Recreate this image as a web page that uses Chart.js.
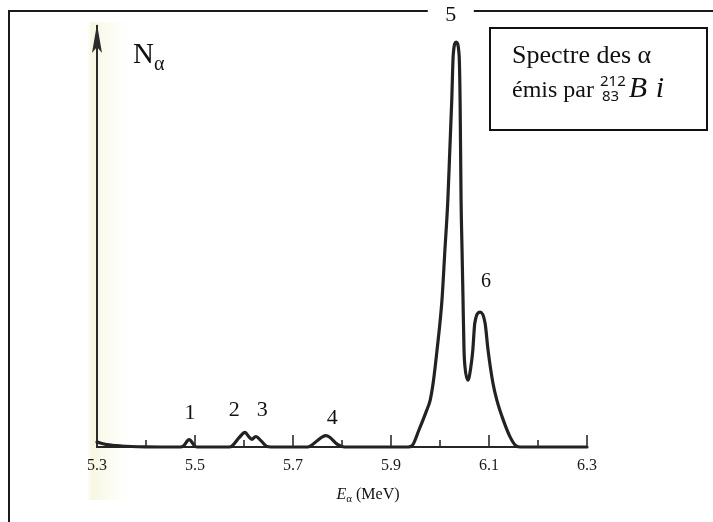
<!DOCTYPE html>
<html><head><meta charset="utf-8">
<script src="https://cdn.jsdelivr.net/npm/chart.js@4.4.1/dist/chart.umd.min.js"></script>
<style>html,body{margin:0;padding:0;background:#fff;overflow:hidden}canvas{display:block}</style>
</head><body>
<canvas id="c" width="713" height="522"></canvas>
<script>
// Alpha spectrum of Bi-212 (counts in arbitrary units, peak 5 = 100)
const energy = [5.300,5.320,5.350,5.400,5.470,5.476,5.488,5.500,5.505,5.570,5.576,5.590,5.602,5.610,5.616,5.624,5.635,5.647,5.655,
  5.730,5.735,5.750,5.760,5.767,5.775,5.790,5.800,5.805,5.935,5.943,5.957,5.973,5.980,5.986,5.994,6.004,6.010,6.016,6.020,6.024,
  6.027,6.033,6.039,6.041,6.043,6.045,6.047,6.049,6.051,6.057,6.063,6.067,6.071,6.082,6.092,6.098,6.108,6.116,6.129,6.143,6.155,6.165,6.300];
const counts = [1.2,0.6,0.25,0.05,0,0.2,1.8,0.2,0,0,0.3,2.3,3.6,2.5,1.9,2.6,1.5,0.1,0,
  0,0.2,1.6,2.5,2.8,2.4,0.7,0.1,0,0,0.3,4.2,9.1,11.6,15.8,24.0,36.3,48.6,61.0,73.3,85.7,
  96.8,100,96.8,85.7,61.0,48.6,36.3,24.0,19.8,16.5,19.8,24.0,30.6,33.3,30.6,24.0,15.8,11.6,6.7,2.5,0.3,0,0];
const tickLabels = ['5.3','5.5','5.7','5.9','6.1','6.3'];
const peakNames  = ['1','2','3','4','5','6'];
const peakLabelE = [5.49,5.58,5.637,5.78,6.022,6.094];
const peakLabelN = [8.4,9.1,9.1,7.2,106.7,40.7];

const SERIF = '"Liberation Serif","Times New Roman",serif';
const points = energy.map((e,i)=>({x:e,y:counts[i]}));

const decor = {
  id:'decor',
  beforeDraw(chart){
    const ctx = chart.ctx;
    ctx.save();
    const g = ctx.createLinearGradient(87,0,138,0);
    g.addColorStop(0,'rgba(246,245,222,0)');
    g.addColorStop(0.1,'rgba(245,244,216,0.8)');
    g.addColorStop(1,'rgba(255,255,255,0)');
    ctx.fillStyle = g;
    ctx.fillRect(87,22,51,478);
    ctx.restore();
  },
  afterDraw(chart){
    const {ctx, chartArea:a} = chart;
    const xs = chart.scales.x, ys = chart.scales.y;
    ctx.save();
    // inward tick marks
    ctx.strokeStyle = '#2b2b2b'; ctx.lineWidth = 1.6;
    xs.ticks.forEach(t=>{
      const lab = t.value.toFixed(1);
      if (lab === '5.3') return;
      const px = xs.getPixelForValue(t.value);
      const len = tickLabels.includes(lab) ? 12 : 7;
      ctx.beginPath(); ctx.moveTo(px, a.bottom); ctx.lineTo(px, a.bottom - len); ctx.stroke();
    });
    // arrow head on y axis
    ctx.fillStyle = '#2b2b2b';
    ctx.beginPath();
    ctx.moveTo(a.left, a.top - 2);
    ctx.lineTo(a.left - 5, a.top + 27);
    ctx.lineTo(a.left, a.top + 21);
    ctx.lineTo(a.left + 5, a.top + 27);
    ctx.closePath(); ctx.fill();

    // outer frame (top and left)
    ctx.strokeStyle = '#1a1a1a'; ctx.lineWidth = 2;
    ctx.beginPath(); ctx.moveTo(9,522); ctx.lineTo(9,11); ctx.lineTo(713,11); ctx.stroke();

    // peak labels
    ctx.fillStyle = '#111';
    ctx.textAlign = 'center'; ctx.textBaseline = 'middle';
    peakNames.forEach((n,i)=>{
      const px = xs.getPixelForValue(peakLabelE[i]);
      const py = ys.getPixelForValue(peakLabelN[i]);
      ctx.font = (i===5 ? '20px ' : '22px ') + SERIF;
      if (n === '5') { ctx.fillStyle = '#fff'; ctx.fillRect(px-23, 4, 46, 16); ctx.fillStyle = '#111'; }
      ctx.fillText(n, px, py);
    });

    // N_alpha
    ctx.textAlign = 'left'; ctx.textBaseline = 'alphabetic';
    ctx.font = '29px ' + SERIF;
    ctx.fillText('N', 133, 63);
    const nw = ctx.measureText('N').width;
    ctx.font = '20px ' + SERIF;
    ctx.fillText('α', 133 + nw, 70);

    // axis title E_alpha (MeV)
    ctx.font = 'italic 16px ' + SERIF;
    const w1 = ctx.measureText('E').width;
    ctx.font = '11px ' + SERIF;
    const w2 = ctx.measureText('α').width;
    ctx.font = '16px ' + SERIF;
    const w3 = ctx.measureText(' (MeV)').width;
    let tx = 368 - (w1+w2+w3)/2;
    ctx.font = 'italic 16px ' + SERIF; ctx.fillText('E', tx, 499); tx += w1;
    ctx.font = '11px ' + SERIF; ctx.fillText('α', tx, 502); tx += w2;
    ctx.font = '16px ' + SERIF; ctx.fillText(' (MeV)', tx, 499);

    // annotation box
    ctx.strokeStyle = '#111'; ctx.lineWidth = 2;
    ctx.strokeRect(490, 28, 217, 102);
    ctx.fillStyle = '#111';
    ctx.font = '26px ' + SERIF;
    ctx.fillText('Spectre des α', 512, 63);
    ctx.font = '24px ' + SERIF;
    ctx.fillText('émis par', 512, 97);
    let bx = 512 + ctx.measureText('émis par').width + 6;
    ctx.font = '15px "Noto Sans","DejaVu Sans",sans-serif';
    ctx.fillText('212', bx, 86);
    ctx.fillText('83', bx + 2, 101);
    bx += ctx.measureText('212').width + 3;
    ctx.font = 'italic 30px ' + SERIF;
    ctx.fillText('B', bx, 97);
    ctx.fillText('i', bx + 27, 97);
    ctx.restore();
  }
};

new Chart(document.getElementById('c'), {
  type: 'line',
  data: { datasets: [{
    data: points,
    borderColor: '#222',
    borderWidth: 3.2,
    pointRadius: 0,
    fill: false,
    cubicInterpolationMode: 'monotone',
    borderJoinStyle: 'round',
    borderCapStyle: 'round',
    clip: false
  }]},
  options: {
    responsive: false,
    animation: false,
    devicePixelRatio: 1,
    layout: { padding: { left: 97, right: 126, top: 26, bottom: 0 } },
    plugins: { legend: { display: false }, tooltip: { enabled: false }, title: { display: false } },
    scales: {
      x: {
        type: 'linear', min: 5.3, max: 6.3,
        grid: { display: false, drawTicks: false },
        border: { display: true, color: '#262626', width: 2 },
        ticks: {
          stepSize: 0.1, autoSkip: false, maxRotation: 0, padding: 9,
          color: '#1a1a1a', font: { family: SERIF, size: 16 },
          callback: (v) => { const s = Number(v).toFixed(1); return tickLabels.includes(s) ? s : ''; }
        },
        afterFit: (s) => { s.height = 75; }
      },
      y: {
        min: 0, max: 104,
        grid: { display: false, drawTicks: false },
        border: { display: true, color: '#2b2b2b', width: 2 },
        ticks: { display: false },
        afterFit: (s) => { s.width = 0; }
      }
    }
  },
  plugins: [decor]
});
</script>
</body></html>
